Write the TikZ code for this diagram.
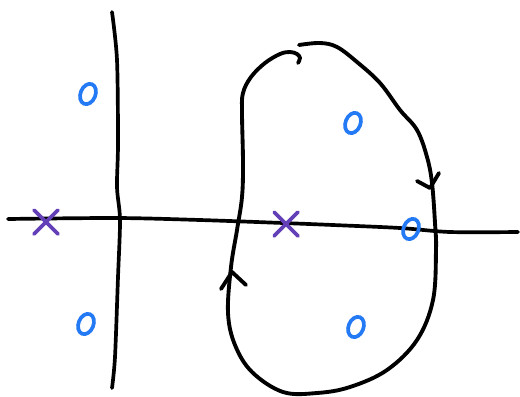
\documentclass[tikz,border=0pt]{standalone}
\usepackage{tikz}
\usetikzlibrary{shapes.geometric,shapes.misc}
\definecolor{polepurple}{HTML}{6440B8}
\definecolor{zeroblue}{HTML}{2479F5}

\begin{document}
\begin{tikzpicture}[
  x=0.02cm, y=-0.02cm,
  axis/.style={line width=2.1pt, line cap=round, line join=round, draw=black},
  contour/.style={line width=2.2pt, line cap=round, line join=round, draw=black},
  chevron/.style={contour},
  pole/.style={cross out, draw=polepurple, line width=2.1pt, line cap=round,
    minimum width=11.5pt, minimum height=11.5pt, inner sep=0pt},
  zero/.style={ellipse, draw=zeroblue, line width=2.1pt, inner sep=0pt,
    minimum width=8.5pt, minimum height=12pt, rotate=-22},
]
\useasboundingbox (0,0) rectangle (520,396);

% axes
\draw[axis] plot[smooth] coordinates {(8,219) (117,218) (200,220) (283,223)
  (333,225) (400,228) (450,232) (518,232)};
\draw[axis] plot[smooth] coordinates {(112,12) (117,60) (118,143) (117,187)
  (120,220) (118,277) (115,357) (112,388)};

% contour
\draw[contour] plot[smooth, tension=0.6] coordinates {(299,45) (320,43) (337,47)
  (357,62) (380,83) (400,110) (417,130) (427,157) (432,183) (435,223) (436,250)
  (433,300) (417,340) (387,370) (350,387) (317,393) (283,392) (252,372) (235,345)
  (228,313) (231,267) (237,230) (242,197) (243,163) (242,113) (243,93) (251,77)
  (265,63) (280,54) (290,52) (297,54) (300,58) (298,63)};

% direction marks
\coordinate (tipR) at (430,188);
\coordinate (tipL) at (232,272);
\draw[chevron] (417,181) -- (tipR) -- (439,173);
\draw[chevron] (221,289) -- (tipL) -- (246,285);

% poles
\node[pole] (p1) at (46,222) {};
\node[pole] (p2) at (286,224) {};

% zeros
\node[zero] (z1) at (88,94) {};
\node[zero] (z2) at (353,123) {};
\node[zero] (z3) at (411,229) {};
\node[zero] (z4) at (86,324) {};
\node[zero] (z5) at (356,327) {};
\end{tikzpicture}
\end{document}
